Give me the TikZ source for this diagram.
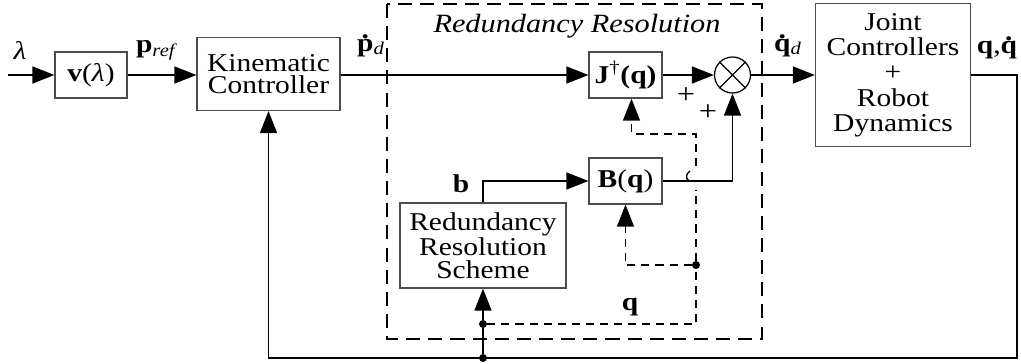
\documentclass[tikz,border=0pt]{standalone}
\usepackage{fontspec}
\setmainfont[FakeStretch=1.15]{Liberation Serif}
\usetikzlibrary{arrows.meta,positioning}

\newcommand{\dotted}[1]{\ooalign{#1\cr\hidewidth\raisebox{0.5em}{\textbf{.}}\hidewidth}}

\tikzset{
    block/.style={draw=black!70, line width=0.7pt, inner sep=1pt, align=center,
        font=\fontsize{14.6}{12.6}\selectfont},
    lbl/.style={inner sep=0pt, font=\fontsize{14.6}{14}\selectfont},
    line/.style={line width=1.1pt},
    sig/.style={line width=1.1pt, -{Triangle[length=12.5pt,width=9.6pt]}},
    fb/.style={line width=0.85pt, dash pattern=on 4.6pt off 3.4pt},
    fbsig/.style={fb, -{Triangle[length=12.5pt,width=9.6pt]}},
    region/.style={line width=1.6pt, dash pattern=on 8pt off 4.6pt},
    dot/.style={circle, fill, inner sep=0pt, minimum size=0.16cm}
}

\begin{document}
\begin{tikzpicture}[x=0.02cm, y=-0.02cm]
    \useasboundingbox (0,0) rectangle (1021,364);

    % Redundancy resolution region
    \draw[region] (387,4) rectangle (762,339);
    \node[lbl, font=\fontsize{15}{14}\selectfont\itshape] (title) at (577,26) {Redundancy Resolution};

    % Blocks
    \node[block, minimum width=1.44cm, minimum height=0.92cm] (vl) at (91,75) {\textbf{v}(\textit{λ})};
    \node[block, minimum width=2.86cm, minimum height=1.46cm] (kin) at (268.5,74) {Kinematic\\Controller};
    \node[block, minimum width=1.46cm, minimum height=0.92cm] (J) at (625.5,75) {\textbf{J}\textsuperscript{\dag}\textbf{(q)}};
    \node[block, minimum width=1.46cm, minimum height=0.92cm] (B) at (625.5,181) {\textbf{B}(\textbf{q})};
    \node[block, minimum width=3.32cm, minimum height=1.70cm, font=\fontsize{14.6}{13.2}\selectfont] (rrs) at (483,245.5) {Redundancy\\Resolution\\Scheme};
    \node[block, minimum width=3.1cm, minimum height=2.86cm, font=\fontsize{14.6}{14.4}\selectfont] (joint) at (893,75) {Joint\\Controllers\\+\\Robot\\Dynamics};

    % Summing junction
    \node[circle, draw, line width=0.7pt, minimum size=0.72cm, inner sep=0pt] (sum) at (732.5,75) {};
    \draw[line width=0.7pt] (sum.45) -- (sum.225) (sum.135) -- (sum.-45);

    % Inputs
    \coordinate (in) at (8,75);
    \draw[sig] (in) -- (vl);
    \draw[sig] (vl) -- (kin.west |- vl);
    \draw[sig] (kin.east |- J) -- (J);
    \draw[sig] (J) -- (sum);
    \draw[sig] (sum) -- (joint);
    \draw[sig] (B.east) -| (sum.south);
    \draw[sig] (rrs.north) |- (B.west);

    % Feedback
    \coordinate (fbcorner) at (1017,358);
    \node[dot] (tap1) at (483,358) {};
    \node[dot] (tap2) at (483,324) {};
    \node[dot] (tap3) at (696,265) {};
    \draw[sig] (joint.east) -| (fbcorner) -| (kin.south);
    \draw[line] (tap1) -- (tap2);
    \draw[sig] (tap2) -- (rrs.south);

    % Dashed q lines
    \coordinate (gapA) at (696,190);
    \coordinate (gapB) at (696,166);
    \coordinate (jturn) at (696,134);
    \draw[fb] (tap2) -| (tap3) -- (gapA);
    \draw[fbsig] (gapB) -- (jturn) -| ([xshift=0.12cm]J.south);
    \draw[fbsig] (tap3) -| (B.south);
    \draw[line width=0.8pt] (689,181) .. controls (685,178) and (686,174) .. (690,171);

    % Labels
    \node[lbl] (lam) at (20,50) {\textit{λ}};
    \node[lbl] (pref) at (157,50) {\textbf{p}\textsubscript{\textit{ref}}};
    \node[lbl] (pd) at (371,47) {\dotted{\textbf{p}}\textsubscript{\textit{d}}};
    \node[lbl] (qd) at (788,47) {\dotted{\textbf{q}}\textsubscript{\textit{d}}};
    \node[lbl] (qqd) at (997,50) {\textbf{q},\dotted{\textbf{q}}};
    \node[lbl] (blbl) at (461,184) {\textbf{b}};
    \node[lbl] (qlbl) at (630,307) {\textbf{q}};
    \node[lbl, font=\fontsize{16}{16}\selectfont] (plus1) at (686,96) {+};
    \node[lbl, font=\fontsize{16}{16}\selectfont] (plus2) at (708,113) {+};
\end{tikzpicture}
\end{document}
